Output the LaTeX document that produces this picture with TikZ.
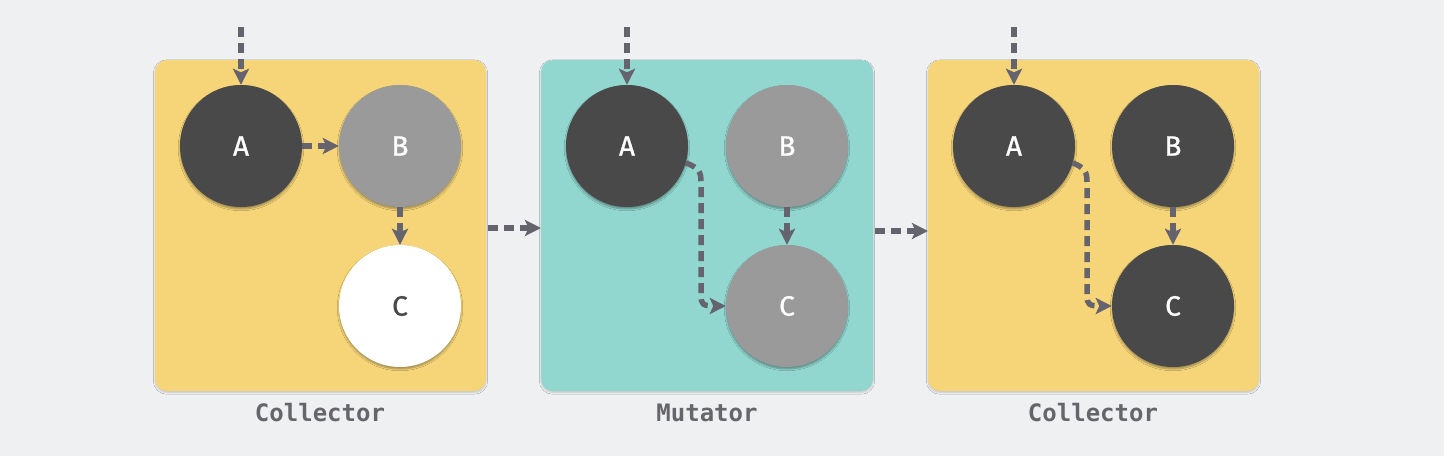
\documentclass[tikz,border=0pt]{standalone}
\usepackage{fontspec}
\newfontfamily\lettfont[FakeBold=0.9]{Fira Sans}
\setmonofont{DejaVu Sans Mono}
\usetikzlibrary{arrows.meta,shadows.blur}
\definecolor{bg}{HTML}{EFF0F2}
\definecolor{yel}{HTML}{F6D579}
\definecolor{tealc}{HTML}{91D7CF}
\definecolor{dark}{HTML}{494949}
\definecolor{mid}{HTML}{9A9A9A}
\definecolor{arr}{HTML}{65636E}
\definecolor{lbl}{HTML}{66656B}
\tikzset{
  panel/.style={rounded corners=12pt, draw=none, inner sep=0pt, minimum height=331pt, blur shadow={shadow xshift=0pt, shadow yshift=-1.5pt, shadow blur steps=4, shadow opacity=18}},
  obj/.style={circle, minimum size=122pt, inner sep=0pt, font=\lettfont\fontsize{28}{28}\selectfont, blur shadow={shadow xshift=0pt, shadow yshift=-2pt, shadow blur steps=5, shadow opacity=35}},
  blk/.style={obj, fill=dark, text=white},
  gry/.style={obj, fill=mid, text=white},
  wht/.style={obj, fill=white, text=dark},
  ptr/.style={draw=arr, line width=5.5pt, dash pattern=on 10pt off 6pt, -{Stealth[length=16pt,width=16pt,inset=3.5pt]}},
  lblstyle/.style={font=\ttfamily\bfseries\fontsize{24}{24}\selectfont, text=lbl}
}
\begin{document}
\begin{tikzpicture}[x=1pt,y=-1pt]
\fill[bg] (0,0) rectangle (1444,456);
\useasboundingbox (0,0) rectangle (1444,456);
% panels
\node[panel, fill=yel, minimum width=331pt] (P1) at (320.5,225.5) {};
\node[panel, fill=tealc, minimum width=332pt] (P2) at (707,225.5) {};
\node[panel, fill=yel, minimum width=331pt] (P3) at (1093.5,225.5) {};
% labels
\node[lblstyle] (L1) at (320,413) {Collector};
\node[lblstyle] (L2) at (707,413) {Mutator};
\node[lblstyle] (L3) at (1093,413) {Collector};
% panel 1
\node[blk] (A1) at (241,146) {A};
\node[gry] (B1) at (400,146) {B};
\node[wht] (C1) at (400,306) {C};
% panel 2
\node[blk] (A2) at (627,146) {A};
\node[gry] (B2) at (787,146) {B};
\node[gry] (C2) at (787,306) {C};
% panel 3
\node[blk] (A3) at (1014,146) {A};
\node[blk] (B3) at (1173,146) {B};
\node[blk] (C3) at (1173,306) {C};
% roots
\coordinate (R1) at (241,27);
\coordinate (R2) at (627,27);
\coordinate (R3) at (1014,27);
\draw[ptr] (R1) -- (A1.north);
\draw[ptr] (R2) -- (A2.north);
\draw[ptr] (R3) -- (A3.north);
% panel 1 edges
\draw[ptr] (A1.east) -- (B1.west);
\draw[ptr] (B1.south) -- (C1.north);
% panel 2 edges
\draw[ptr] (B2.south) -- (C2.north);
\draw[ptr] (A2.-16) .. controls (699,168) and (701,172) .. (701,182) -- (701,296) .. controls (701,304) and (703,306) .. (C2.west);
% panel 3 edges
\draw[ptr] (B3.south) -- (C3.north);
\draw[ptr] (A3.-16) .. controls (1085,168) and (1087,172) .. (1087,182) -- (1087,296) .. controls (1087,304) and (1089,306) .. (C3.west);
% between panels
\coordinate (S1) at (488,228);
\coordinate (E1) at (541,228);
\coordinate (S2) at (875,231);
\coordinate (E2) at (928,231);
\draw[ptr] (S1) -- (E1);
\draw[ptr] (S2) -- (E2);
\end{tikzpicture}
\end{document}
